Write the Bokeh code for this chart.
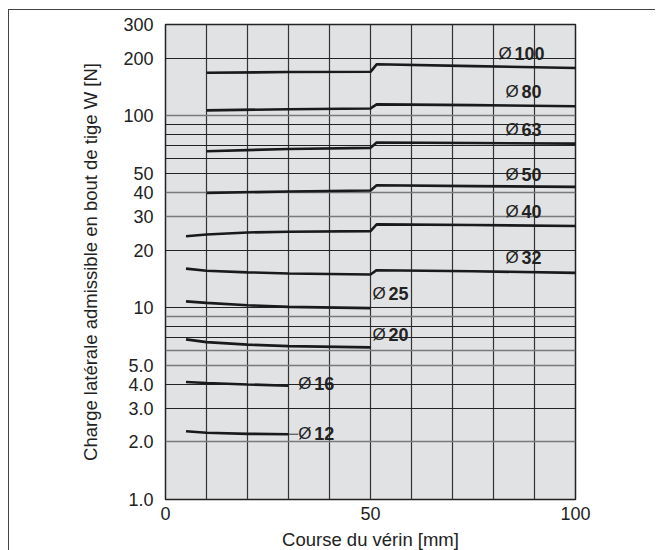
from bokeh.plotting import figure
from bokeh.models import FixedTicker, Grid, CustomJSTickFormatter, ColumnDataSource
from bokeh.embed import file_html
from bokeh.resources import INLINE
from bokeh.core.properties import value

# ---- data ----
x_d100 = [10, 30, 50, 51.5, 75, 100]
y_d100 = [168, 169.5, 170, 186, 182, 178]
x_d80 = [10, 30, 50, 51.5, 75, 100]
y_d80 = [107, 108.5, 109.5, 115, 114, 112.5]
x_d63 = [10, 30, 50, 51.5, 75, 100]
y_d63 = [65.5, 67.3, 68.2, 72.7, 72.3, 71.8]
x_d50 = [10, 30, 50, 51.5, 75, 100]
y_d50 = [39.7, 40.4, 40.9, 43.5, 43.1, 42.7]
x_d40 = [5, 10, 20, 30, 50, 51.5, 75, 100]
y_d40 = [23.6, 24.1, 24.7, 24.9, 25.1, 27.2, 27.0, 26.7]
x_d32 = [5, 10, 20, 30, 50, 51.5, 75, 100]
y_d32 = [16.0, 15.6, 15.3, 15.1, 14.9, 15.7, 15.5, 15.2]
x_d25 = [5, 10, 20, 30, 50]
y_d25 = [10.8, 10.6, 10.3, 10.1, 9.96]
x_d20 = [5, 10, 20, 30, 50]
y_d20 = [6.84, 6.62, 6.42, 6.31, 6.21]
x_d16 = [5, 10, 20, 30]
y_d16 = [4.10, 4.05, 3.98, 3.92]
x_d12 = [5, 10, 20, 30]
y_d12 = [2.27, 2.23, 2.20, 2.19]

label_names = ["100", "80", "63", "50", "40", "32", "25", "20", "16", "12"]
label_x = [81.2, 82.9, 82.9, 82.9, 82.9, 82.9, 50.5, 50.5, 32.4, 32.4]
label_y = [213, 133.6, 85.3, 49.7, 31.6, 18.3, 11.9, 7.26, 4.03, 2.21]

y_tick_values = [1, 2, 3, 4, 5, 10, 20, 30, 40, 50, 100, 200, 300]
x_tick_values = [0, 50, 100]
grid_dark = [3, 4, 7, 8, 10, 20, 50, 60, 70, 80, 90, 200]
grid_gray = [2, 5, 6, 9, 30, 40, 100]
grid_x = [10, 20, 30, 40, 50, 60, 70, 80, 90]

FONT = "Liberation Sans"

p = figure(frame_width=410, frame_height=475,
           min_border_left=156, min_border_right=80, min_border_top=14, min_border_bottom=49,
           x_range=(0, 100), y_range=(1, 300), y_axis_type="log",
           output_backend="svg", toolbar_location=None)
p.styles = {"margin-left": "8px", "margin-top": "9px",
            "border-left": "1px solid #444", "border-top": "1px solid #444"}
p.background_fill_color = "#e1e2e4"
p.outline_line_color = "#222222"
p.outline_line_width = 1.5

# grids
p.ygrid.grid_line_color = None
p.xgrid.ticker = FixedTicker(ticks=grid_x)
p.xgrid.grid_line_color = "#333333"
p.xgrid.grid_line_width = 1.2
g1 = Grid(dimension=1, ticker=FixedTicker(ticks=grid_dark), grid_line_color="#222222", grid_line_width=1.2)
g2 = Grid(dimension=1, ticker=FixedTicker(ticks=grid_gray), grid_line_color="#7a7a7a", grid_line_width=1.4)
p.add_layout(g1)
p.add_layout(g2)

# axes
for ax in (p.xaxis[0], p.yaxis[0]):
    ax.axis_line_color = None
    ax.major_tick_line_color = None
    ax.minor_tick_line_color = None
    ax.major_label_text_font = FONT
    ax.major_label_text_font_size = "18px"
    ax.major_label_text_color = "#222222"
    ax.axis_label_text_font = FONT
    ax.axis_label_text_font_size = "18.5px"
    ax.axis_label_text_font_style = "normal"
    ax.axis_label_text_color = "#222222"

p.yaxis.ticker = FixedTicker(ticks=y_tick_values)
p.yaxis.formatter = CustomJSTickFormatter(code="return tick < 10 ? tick.toFixed(1) : tick.toFixed(0);")
p.yaxis.major_label_standoff = 6
p.yaxis.axis_label = "Charge latérale admissible en bout de tige W [N]"
p.yaxis.axis_label_standoff = 19

p.xaxis.ticker = FixedTicker(ticks=x_tick_values)
p.xaxis.major_label_standoff = 1
p.xaxis.axis_label = "Course du vérin [mm]"
p.xaxis.axis_label_standoff = 6

# curves
series = [(x_d100, y_d100), (x_d80, y_d80), (x_d63, y_d63), (x_d50, y_d50), (x_d40, y_d40),
          (x_d32, y_d32), (x_d25, y_d25), (x_d20, y_d20), (x_d16, y_d16), (x_d12, y_d12)]
for xs, ys in series:
    p.line(xs, ys, line_color="#1a1a1a", line_width=2.6)

# thin leader from the end of the Ø12 curve to its label
p.line([x_d12[-1], label_x[-1]], [y_d12[-1], y_d12[-1]], line_color="#333333", line_width=1)

# labels
src = ColumnDataSource(dict(x=label_x, y=label_y, sym=["Ø"] * len(label_names), num=label_names))
p.text(x="x", y="y", text="sym", source=src, text_font=value(FONT), text_font_size="17px",
       text_baseline="middle", text_align="left", text_color="#222222")
p.text(x="x", y="y", text="num", source=src, text_font=value(FONT), text_font_size="18px",
       text_font_style="bold", text_baseline="middle", text_align="left", text_color="#222222",
       x_offset=16)

open("out.html", "w").write(file_html(p, INLINE))
